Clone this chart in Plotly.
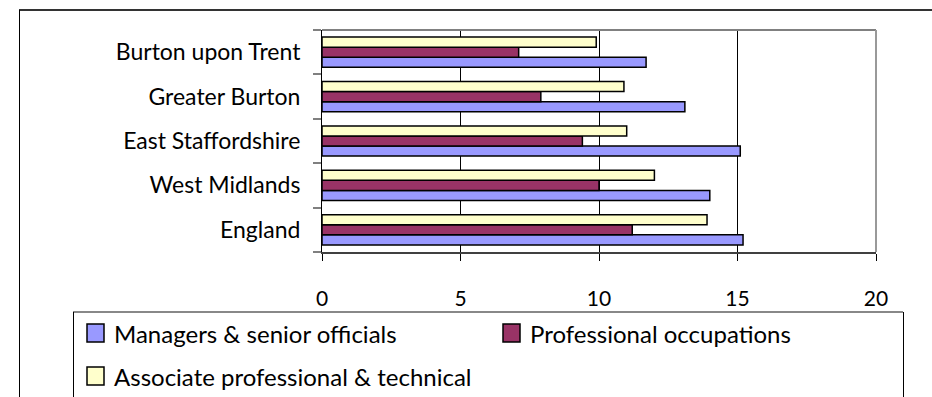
import plotly.graph_objects as go

# Occupation shares (%) by area
areas = ["Burton upon Trent", "Greater Burton", "East Staffordshire", "West Midlands", "England"]
series_names = ["Managers & senior officials", "Professional occupations", "Associate professional & technical"]
managers = [11.7, 13.1, 15.1, 14.0, 15.2]
professional = [7.1, 7.9, 9.4, 10.0, 11.2]
associate = [9.9, 10.9, 11.0, 12.0, 13.9]
series_values = [managers, professional, associate]
series_colors = ["#9999FF", "#993366", "#FFFFCC"]
x_ticks = [0, 5, 10, 15, 20]

W, H = 932, 397
L, R, T, B = 322, 56, 30, 145
PW, PH = W - L - R, H - T - B
FONT = "Lato"


def px_x(px):
    return (px - L) / PW


def px_y(py):
    return (H - B - py) / PH


fig = go.Figure()
for name, vals, col in zip(series_names, series_values, series_colors):
    fig.add_trace(go.Bar(
        y=areas, x=vals, name=name, orientation="h",
        marker=dict(color=col, line=dict(color="black", width=1.5)),
        showlegend=False,
    ))

shapes = []
# outer frame (top and left edges visible)
shapes.append(dict(type="line", xref="paper", yref="paper",
                   x0=px_x(19), x1=px_x(950), y0=px_y(10), y1=px_y(10),
                   line=dict(color="#333333", width=2)))
shapes.append(dict(type="line", xref="paper", yref="paper",
                   x0=px_x(19.5), x1=px_x(19.5), y0=px_y(10), y1=px_y(420),
                   line=dict(color="black", width=1)))
# plot-area border: top and right
shapes.append(dict(type="line", xref="paper", yref="paper",
                   x0=0, x1=1, y0=1, y1=1, line=dict(color="#808080", width=2)))
shapes.append(dict(type="line", xref="paper", yref="paper",
                   x0=1, x1=1, y0=0, y1=1, line=dict(color="#999999", width=2)))
# legend box
shapes.append(dict(type="line", xref="paper", yref="paper",
                   x0=px_x(73), x1=px_x(903), y0=px_y(312), y1=px_y(312),
                   line=dict(color="#888888", width=2)))
shapes.append(dict(type="line", xref="paper", yref="paper",
                   x0=px_x(73.5), x1=px_x(73.5), y0=px_y(312), y1=px_y(420),
                   line=dict(color="black", width=1)))
shapes.append(dict(type="line", xref="paper", yref="paper",
                   x0=px_x(903.5), x1=px_x(903.5), y0=px_y(312), y1=px_y(420),
                   line=dict(color="black", width=1)))

# legend entries: swatch + label
legend_pos = [(87, 333), (503, 333), (87, 376)]
annotations = []
for (lx, ly), name, col in zip(legend_pos, series_names, series_colors):
    shapes.append(dict(type="rect", xref="paper", yref="paper",
                       x0=px_x(lx), x1=px_x(lx + 17), y0=px_y(ly - 9), y1=px_y(ly + 9),
                       fillcolor=col, line=dict(color="black", width=1.5)))
    annotations.append(dict(xref="paper", yref="paper", x=px_x(lx + 25), y=px_y(ly),
                            xanchor="left", yanchor="middle", showarrow=False,
                            text=name, font=dict(family=FONT, size=24, color="black")))

fig.update_layout(
    width=W, height=H,
    margin=dict(l=L, r=R, t=T, b=B, autoexpand=False),
    paper_bgcolor="white", plot_bgcolor="white",
    barmode="group", bargap=0.32, bargroupgap=0,
    shapes=shapes, annotations=annotations,
    showlegend=False,
    xaxis=dict(
        range=[0, 20], tickvals=x_ticks, ticktext=[str(v) for v in x_ticks],
        showgrid=True, gridcolor="black", gridwidth=1,
        zeroline=False, showline=True, linecolor="#404040", linewidth=2,
        ticks="outside", ticklen=7, tickcolor="black", tickwidth=1,
        ticklabelstandoff=20,
        tickfont=dict(family=FONT, size=21, color="black"),
    ),
    yaxis=dict(
        categoryorder="array", categoryarray=areas[::-1],
        showgrid=False, zeroline=False,
        showline=True, linecolor="black", linewidth=1,
        ticks="outside", ticklen=8, tickcolor="#808080", tickwidth=2,
        tickson="boundaries", ticklabelstandoff=16,
        tickfont=dict(family=FONT, size=23, color="black"),
    ),
)

fig.write_html("out.html")
